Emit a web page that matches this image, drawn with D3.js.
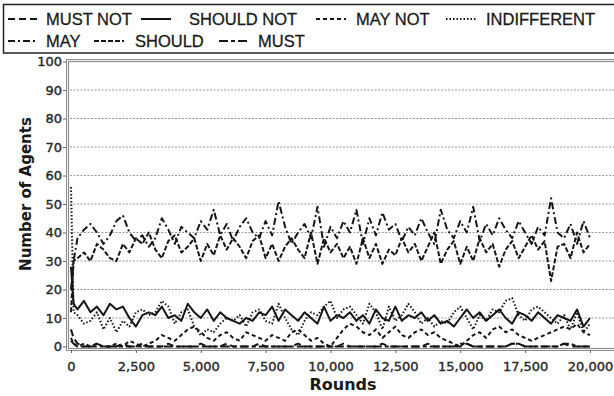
<!DOCTYPE html>
<html>
<head>
<meta charset="utf-8">
<script src="https://cdn.jsdelivr.net/npm/d3@7"></script>
<style>
  html, body { margin: 0; padding: 0; background: #fff; }
  svg { display: block; }
</style>
</head>
<body>
<div id="chart"></div>
<script>
// sample rounds (x values)
const rounds = [0, 100].concat(d3.range(250, 20001, 250));
const xTicks = [0, 2500, 5000, 7500, 10000, 12500, 15000, 17500, 20000];
const yTicks = [0, 10, 20, 30, 40, 50, 60, 70, 80, 90, 100];

const mustNot = [6, 3,
  1, 0, 0, 1, 0, 0, 0, 1, 0, 0,
  1, 0, 0, 0, 1, 0, 0, 0, 0, 1,
  0, 0, 0, 1, 0, 0, 0, 0, 1, 0,
  0, 0, 0, 0, 1, 0, 0, 0, 0, 0,
  0, 1, 0, 0, 0, 0, 0, 1, 0, 0,
  0, 0, 0, 0, 1, 0, 0, 0, 0, 0,
  1, 0, 0, 0, 0, 0, 0, 1, 1, 0,
  0, 0, 0, 0, 0, 1, 0, 0, 0, 0];
const shouldNot = [28, 15,
  13, 16, 12, 14, 11, 15, 13, 14, 10, 7,
  11, 12, 11, 14, 10, 11, 9, 15, 12, 10,
  13, 9, 12, 10, 9, 8, 10, 9, 12, 11,
  14, 9, 13, 11, 9, 12, 10, 8, 14, 9,
  11, 10, 12, 9, 11, 8, 13, 10, 9, 14,
  9, 11, 10, 12, 9, 11, 8, 9, 7, 10,
  13, 10, 12, 9, 11, 13, 10, 8, 12, 11,
  9, 12, 10, 8, 11, 10, 9, 13, 7, 10];
const mayNot = [3, 1,
  0, 1, 0, 1, 0, 0, 1, 0, 2, 1,
  0, 1, 2, 4, 3, 2, 4, 6, 7, 5,
  3, 2, 4, 5, 3, 2, 5, 4, 3, 2,
  4, 3, 2, 5, 6, 4, 2, 3, 1, 0,
  3, 6, 8, 7, 5, 4, 6, 3, 5, 7,
  4, 3, 5, 6, 4, 5, 3, 2, 1, 0,
  2, 4, 5, 3, 6, 7, 5, 6, 4, 3,
  2, 3, 4, 5, 6, 7, 6, 8, 5, 4];
const indifferent = [56, 12,
  11, 8, 9, 12, 6, 10, 5, 9, 7, 12,
  13, 11, 12, 16, 14, 8, 12, 13, 7, 4,
  6, 5, 8, 10, 9, 11, 7, 12, 13, 9,
  8, 15, 10, 6, 4, 9, 12, 11, 14, 16,
  10, 13, 14, 11, 8, 15, 12, 6, 14, 9,
  11, 15, 12, 8, 10, 7, 9, 8, 12, 14,
  10, 6, 11, 9, 13, 12, 16, 17, 11, 9,
  13, 14, 12, 10, 8, 11, 6, 12, 5, 8];
const may = [20, 30,
  38, 41, 43, 40, 36, 39, 44, 46, 40, 37,
  39, 35, 38, 45, 41, 36, 42, 40, 38, 44,
  41, 48, 39, 43, 37, 42, 45, 40, 38, 44,
  39, 51, 42, 36, 40, 43, 38, 49, 35, 42,
  38, 44, 40, 48, 36, 45, 39, 47, 41, 43,
  37, 42, 39, 45, 40, 36, 48, 41, 38, 44,
  40, 49, 37, 43, 39, 45, 41, 38, 44, 40,
  36, 42, 39, 52, 40, 38, 43, 36, 44, 38];
const should = [12, 30,
  31, 33, 30, 36, 34, 31, 30, 36, 33, 38,
  36, 40, 34, 31, 37, 39, 33, 35, 38, 30,
  36, 32, 39, 34, 38, 35, 31, 37, 39, 31,
  36, 30, 35, 38, 34, 31, 40, 29, 38, 33,
  36, 31, 35, 29, 38, 31, 36, 29, 34, 32,
  38, 33, 36, 30, 35, 40, 29, 34, 37, 29,
  35, 30, 38, 33, 36, 28, 34, 37, 31, 35,
  39, 34, 37, 23, 35, 36, 31, 40, 33, 36];
const must = [2, 1,
  0, 0, 0, 0, 0, 0, 0, 0, 0, 0,
  0, 0, 0, 0, 0, 0, 0, 0, 0, 0,
  0, 0, 0, 0, 0, 0, 0, 0, 0, 0,
  0, 0, 0, 0, 0, 0, 0, 0, 0, 0,
  0, 0, 0, 0, 0, 0, 0, 0, 0, 0,
  0, 0, 0, 0, 0, 0, 0, 0, 0, 1,
  1, 0, 0, 0, 0, 0, 0, 1, 1, 0,
  0, 0, 0, 0, 0, 1, 1, 0, 0, 0];

const series = [
  { name: "MUST NOT", values: mustNot, dash: "7,4" },
  { name: "SHOULD NOT", values: shouldNot, dash: null },
  { name: "MAY NOT", values: mayNot, dash: "4,3" },
  { name: "INDIFFERENT", values: indifferent, dash: "1.5,2" },
  { name: "MAY", values: may, dash: "7,3,2,3" },
  { name: "SHOULD", values: should, dash: "5,2" },
  { name: "MUST", values: must, dash: "9,3,4,3" }
];

const width = 614, height = 396;
const svg = d3.select("#chart").append("svg")
  .attr("width", width)
  .attr("height", height);

const x = d3.scaleLinear().domain([0, 20000]).range([71, 590]);
const y = d3.scaleLinear().domain([0, 100]).range([346.5, 61.5]);

// grid lines
svg.append("g")
  .selectAll("line")
  .data(yTicks.filter(d => d > 0 && d < 100))
  .enter()
  .append("line")
  .attr("x1", 70).attr("x2", 620)
  .attr("y1", d => y(d)).attr("y2", d => y(d))
  .style("stroke", "#999")
  .style("stroke-width", 1)
  .style("stroke-dasharray", "2,1.5");

// plot frame (double grey line)
svg.append("rect")
  .attr("x", 66.5).attr("y", 59.5).attr("width", 560).attr("height", 291)
  .style("fill", "none").style("stroke", "#8c8c8c").style("stroke-width", 1);
svg.append("rect")
  .attr("x", 68.5).attr("y", 61.5).attr("width", 560).attr("height", 287)
  .style("fill", "none").style("stroke", "#8c8c8c").style("stroke-width", 1.2);

// axes
const xAxis = svg.append("g")
  .attr("transform", "translate(0,350)")
  .call(d3.axisBottom(x).tickValues(xTicks).tickFormat(d3.format(",")).tickSize(3));
const yAxis = svg.append("g")
  .attr("transform", "translate(66,0)")
  .call(d3.axisLeft(y).tickValues(yTicks).tickSize(3));
[xAxis, yAxis].forEach(g => {
  g.select(".domain").remove();
  g.selectAll(".tick line").style("stroke", "#666");
  g.selectAll("text")
    .style("font-family", "'DejaVu Sans', sans-serif")
    .style("font-size", "13px")
    .style("fill", "#2a2a2a")
    .style("stroke", "#2a2a2a")
    .style("stroke-width", 0.4);
});
xAxis.selectAll("text").attr("dy", "0.95em").attr("y", 9);
yAxis.selectAll("text").attr("x", -4);

// data lines
const line = d3.line()
  .x((d, i) => x(rounds[i]))
  .y(d => y(d));

svg.append("g")
  .selectAll("path")
  .data(series)
  .enter()
  .append("path")
  .attr("d", d => line(d.values))
  .style("fill", "none")
  .style("stroke", "#161616")
  .style("stroke-width", 2)
  .style("stroke-linejoin", "round")
  .style("stroke-dasharray", d => d.dash);

// axis titles
svg.append("text")
  .attr("x", 343).attr("y", 390)
  .attr("text-anchor", "middle")
  .style("font-family", "'DejaVu Sans', sans-serif")
  .style("font-weight", "bold")
  .style("font-size", "16px")
  .style("fill", "#1a1a1a")
  .text("Rounds");
svg.append("text")
  .attr("transform", "translate(31,194) rotate(-90)")
  .attr("text-anchor", "middle")
  .style("font-family", "'DejaVu Sans', sans-serif")
  .style("font-weight", "bold")
  .style("font-size", "15px")
  .style("fill", "#1a1a1a")
  .text("Number of Agents");

// legend box
svg.append("rect")
  .attr("x", 3.5).attr("y", 4.5).attr("width", 640).attr("height", 48.5)
  .style("fill", "#fff").style("stroke", "#222").style("stroke-width", 1.5);

const legendPos = [
  { sx: 8, tx: 46, row: 0 },
  { sx: 141, tx: 189, row: 0 },
  { sx: 316, tx: 356, row: 0 },
  { sx: 446, tx: 486, row: 0 },
  { sx: 8, tx: 46, row: 1 },
  { sx: 94, tx: 135, row: 1 },
  { sx: 219, tx: 258, row: 1 }
];

const item = svg.append("g")
  .selectAll("g")
  .data(series)
  .enter()
  .append("g")
  .attr("transform", (d, i) => "translate(0," + (legendPos[i].row * 22) + ")");

item.append("line")
  .attr("x1", (d, i) => legendPos[i].sx)
  .attr("x2", (d, i) => legendPos[i].sx + 30)
  .attr("y1", 19).attr("y2", 19)
  .style("stroke", "#161616")
  .style("stroke-width", 2)
  .style("stroke-dasharray", d => d.dash);

item.append("text")
  .attr("x", (d, i) => legendPos[i].tx)
  .attr("y", 25)
  .style("font-family", "'Liberation Sans', Arial, sans-serif")
  .style("font-size", "16.5px")
  .style("fill", "#1a1a1a")
  .style("stroke", "#1a1a1a")
  .style("stroke-width", 0.3)
  .text(d => d.name);
</script>
</body>
</html>
